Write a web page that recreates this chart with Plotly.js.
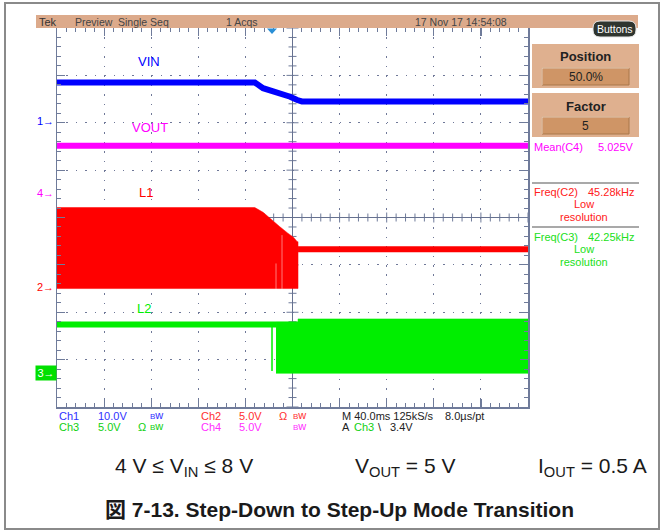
<!DOCTYPE html>
<html><head><meta charset="utf-8">
<script src="https://cdn.plot.ly/plotly-3.0.1.min.js"></script>
<style>html,body{margin:0;padding:0;background:#fff;}#chart{width:661px;height:532px;}</style>
</head><body><div id="chart"></div>
<script>
// ---- channel settings (V/div) and ground-marker positions (divisions from centre)
const chScale  = {ch1: 10, ch2: 5, ch3: 5, ch4: 5};
const chOffset = {ch1: 2.04, ch2: -1.47, ch3: -3.28, ch4: 0.52};

// ---- time in ms (40 ms/div, 0 = trigger), values in volts
// VIN (Ch1)
const vinT = [-200, -32, -25, -11, -2, 4, 8, 200];
const vinV = [8.1, 8.1, 6.9, 5.9, 5.1, 4.4, 4.1, 4.1];
// VOUT (Ch4)
const voutT = [-200, 200];
const voutV = [4.96, 4.96];
// L1 (Ch2) switching envelope before transition
const l1UpperT = [-200, -32, -25, -18, -11, -4, 1, 4, 4.7];
const l1UpperV = [8.4, 8.4, 7.9, 7.1, 6.4, 5.7, 5.25, 4.8, 4.8];
const l1LowerT = [-200, -14.4, -14.4, -13.6, -13.6, -9.3, -9.3, -8.5, -8.5, 4.7];
const l1LowerV = [-0.15, -0.15, 2.5, 2.5, -0.15, -0.15, 5.5, 5.5, -0.15, -0.15];
// L1 after transition (step-up, tracks VIN)
const l1AfterT = [4.7, 200];
const l1AfterV = [4.0, 4.0];
// L2 (Ch3) before transition
const l2BeforeT = [-200, -14];
const l2BeforeV = [5.1, 5.1];
const l2SpikeT = [-17.4, -17.4];
const l2SpikeV = [5.1, 0.2];
// L2 switching envelope after transition
const l2UpperT = [-14, 4.7, 4.7, 200];
const l2UpperV = [5.4, 5.4, 5.7, 5.7];
const l2LowerT = [-14, 200];
const l2LowerV = [-0.05, -0.05];

// ---- text
const traceLabels = ['VIN', 'VOUT', 'L1', 'L2'];
const headerTexts = ['Tek', 'Preview', 'Single Seq', '1 Acqs', '17 Nov 17 14:54:08'];

// ---- helpers
const toDiv = (arr, ch) => arr.map(v => v / chScale[ch] + chOffset[ch]);
const L = 57, R = 528, T = 28, B = 407;
const X = v => (v - L) / (R - L);
const Y = v => (B - v) / (B - T);

const BLUE = '#0000ff', MAG = '#ff00ff', RED = '#ff0000', GRN = '#00ee00';

function band(upT, upV, loT, loV, ch, color) {
  const x = upT.concat(loT.slice().reverse());
  const y = toDiv(upV, ch).concat(toDiv(loV.slice().reverse(), ch));
  return {x, y, type: 'scatter', mode: 'lines', fill: 'toself', fillcolor: color,
    line: {color: color, width: 0.5}, hoverinfo: 'skip', showlegend: false};
}
function line(t, v, ch, color, w) {
  return {x: t, y: toDiv(v, ch), type: 'scatter', mode: 'lines',
    line: {color: color, width: w}, hoverinfo: 'skip', showlegend: false};
}

const traces = [
  band(l1UpperT, l1UpperV, l1LowerT, l1LowerV, 'ch2', RED),
  line(l1AfterT, l1AfterV, 'ch2', RED, 6),
  band(l2UpperT, l2UpperV, l2LowerT, l2LowerV, 'ch3', GRN),
  line(l2BeforeT, l2BeforeV, 'ch3', GRN, 6),
  line(l2SpikeT, l2SpikeV, 'ch3', GRN, 1.5),
  line(voutT, voutV, 'ch4', MAG, 6),
  line(vinT, vinV, 'ch1', BLUE, 6)
];

// ---- shapes
const AX = '#6f7b9a';
const shapes = [];
// centre-line ticks
for (let k = -25; k <= 25; k++) {
  const h = (k % 5 === 0) ? 5 : 4;
  shapes.push({type: 'line', xref: 'x', yref: 'y', ysizemode: 'pixel', yanchor: 0,
    x0: k * 8, x1: k * 8, y0: -h, y1: h, line: {color: AX, width: 1}, layer: 'below'});
}
for (let k = -20; k <= 20; k++) {
  const h = (k % 5 === 0) ? 6 : 4;
  shapes.push({type: 'line', xref: 'x', yref: 'y', xsizemode: 'pixel', xanchor: 0,
    y0: k * 0.2, y1: k * 0.2, x0: -h, x1: h, line: {color: AX, width: 1}, layer: 'below'});
}
function rect(x0, y0, x1, y1, fill, lc, lw) {
  shapes.push({type: 'rect', xref: 'paper', yref: 'paper', x0: X(x0), x1: X(x1), y0: Y(y0), y1: Y(y1),
    fillcolor: fill, line: {color: lc || 'rgba(0,0,0,0)', width: lw || 0}, layer: 'above'});
}
function seg(x0, y0, x1, y1, c, w) {
  shapes.push({type: 'line', xref: 'paper', yref: 'paper', x0: X(x0), x1: X(x1), y0: Y(y0), y1: Y(y1),
    line: {color: c, width: w}, layer: 'above'});
}
function rr(x0, y0, x1, y1, r) {
  return `M${X(x0 + r)},${Y(y0)} L${X(x1 - r)},${Y(y0)} Q${X(x1)},${Y(y0)} ${X(x1)},${Y(y0 + r)} ` +
    `L${X(x1)},${Y(y1 - r)} Q${X(x1)},${Y(y1)} ${X(x1 - r)},${Y(y1)} L${X(x0 + r)},${Y(y1)} ` +
    `Q${X(x0)},${Y(y1)} ${X(x0)},${Y(y1 - r)} L${X(x0)},${Y(y0 + r)} Q${X(x0)},${Y(y0)} ${X(x0 + r)},${Y(y0)} Z`;
}
// outer frame
rect(5, 3, 659, 529, 'rgba(0,0,0,0)', '#8a8a8a', 2);
// header bar
rect(36, 15, 638, 28, '#dcaa8b');
// right panel boxes
rect(532, 44, 639, 88, '#dfb08f');
rect(542, 68, 629, 85, '#cf9566', '#a9764a', 1);
seg(542, 68, 629, 68, '#f2d6bf', 1); seg(542, 68, 542, 85, '#f2d6bf', 1);
rect(532, 93, 639, 137, '#dfb08f');
rect(542, 117, 629, 134, '#cf9566', '#a9764a', 1);
seg(542, 117, 629, 117, '#f2d6bf', 1); seg(542, 117, 542, 134, '#f2d6bf', 1);
seg(532, 183, 639, 183, '#8c8c8c', 1.5);
seg(532, 227, 639, 227, '#8c8c8c', 1.5);
// Buttons pill
shapes.push({type: 'path', xref: 'paper', yref: 'paper', path: rr(593, 21, 636, 37, 7),
  fillcolor: '#2f352f', line: {color: '#e8e8e8', width: 1}, layer: 'above'});
// trigger marker
shapes.push({type: 'path', xref: 'paper', yref: 'paper',
  path: `M${X(267)},${Y(28.5)} L${X(277)},${Y(28.5)} L${X(272)},${Y(34)} Z`,
  fillcolor: '#2a8fd6', line: {width: 0}, layer: 'above'});

// ---- annotations
const ann = [];
const SCR = 'Liberation Sans, Arial, sans-serif';
function txt(x, y, text, color, size, xa, extra) {
  ann.push(Object.assign({xref: 'paper', yref: 'paper', x: X(x), y: Y(y), text: text, showarrow: false,
    xanchor: xa || 'left', yanchor: 'middle',
    font: {family: SCR, size: size, color: color}}, extra || {}));
}
// header
txt(37, 21.5, headerTexts[0], '#333', 11);
txt(73, 21.5, headerTexts[1], '#444', 10.5);
txt(116, 21.5, headerTexts[2], '#444', 10.5);
txt(224, 21.5, headerTexts[3], '#444', 10.5);
txt(413, 21.5, headerTexts[4], '#444', 10.5);
txt(614.5, 29, 'Buttons', '#ffffff', 10.5, 'center');
// panel
txt(585.5, 57, '<b>Position</b>', '#222', 13, 'center');
txt(585.5, 77, '50.0%', '#222', 12, 'center');
txt(585.5, 106, '<b>Factor</b>', '#222', 13, 'center');
txt(585.5, 126, '5', '#222', 12, 'center');
txt(532, 147, 'Mean(C4)', MAG, 11);
txt(636, 147, '5.025V', MAG, 11, 'right');
txt(532, 192, 'Freq(C2)', '#ff2020', 11);
txt(636, 192, '45.28kHz', '#ff2020', 11, 'right');
txt(584, 203.5, 'Low', '#ff2020', 11, 'center');
txt(584, 217, 'resolution', '#ff2020', 11, 'center');
txt(532, 237, 'Freq(C3)', '#20e020', 11);
txt(636, 237, '42.25kHz', '#20e020', 11, 'right');
txt(584, 249, 'Low', '#20e020', 11, 'center');
txt(584, 262, 'resolution', '#20e020', 11, 'center');
// trace labels
txt(149, 61, traceLabels[0], BLUE, 13, 'center');
txt(150, 127, traceLabels[1], MAG, 13, 'center');
txt(146, 192, traceLabels[2], RED, 13, 'center');
txt(144, 308, traceLabels[3], GRN, 13, 'center');
// channel markers
txt(56, 121, '1→', BLUE, 11, 'right');
txt(56, 193, '4→', MAG, 11, 'right');
txt(56, 287, '2→', RED, 11, 'right');
ann.push({xref: 'paper', yref: 'paper', x: X(57), y: Y(372.5), text: '3→', showarrow: false,
  xanchor: 'right', yanchor: 'middle', bgcolor: '#00e000', width: 18, height: 12, borderpad: 1,
  font: {family: SCR, size: 11, color: '#ffffff'}});
// bottom status
const C1 = '#3030ff', C2 = '#ff3030', C3 = '#10d010', C4 = '#ff30ff';
const BW = '<span style="font-size:8px">B</span>w';
txt(57, 415.5, 'Ch1', C1, 11); txt(96, 415.5, '10.0V', C1, 11); txt(148, 414.5, BW, C1, 11);
txt(199, 415.5, 'Ch2', C2, 11); txt(237, 415.5, '5.0V', C2, 11); txt(277, 415.5, 'Ω', C2, 11); txt(291, 414.5, BW, C2, 11);
txt(57, 427, 'Ch3', C3, 11); txt(96, 427, '5.0V', C3, 11); txt(136, 427, 'Ω', C3, 11); txt(148, 426, BW, C3, 11);
txt(199, 427, 'Ch4', C4, 11); txt(237, 427, '5.0V', C4, 11); txt(291, 426, BW, C4, 11);
txt(340, 415.5, 'M 40.0ms 125kS/s', '#222', 11); txt(443, 415.5, '8.0µs/pt', '#222', 11);
txt(340, 427, 'A', '#222', 11); txt(352, 427, 'Ch3', C3, 11); txt(376, 427, '\\', '#222', 11); txt(388, 427, '3.4V', '#222', 11);
// caption
const capFont = {family: 'Liberation Sans, Arial, Noto Sans CJK JP, sans-serif', size: 21, color: '#1a1a1a'};
ann.push({xref: 'paper', yref: 'paper', x: X(184), y: Y(467), text: '4 V ≤ V<sub>IN</sub> ≤ 8 V', showarrow: false, xanchor: 'center', yanchor: 'middle', font: capFont});
ann.push({xref: 'paper', yref: 'paper', x: X(405), y: Y(467), text: 'V<sub>OUT</sub> = 5 V', showarrow: false, xanchor: 'center', yanchor: 'middle', font: capFont});
ann.push({xref: 'paper', yref: 'paper', x: X(592), y: Y(467), text: 'I<sub>OUT</sub> = 0.5 A', showarrow: false, xanchor: 'center', yanchor: 'middle', font: capFont});
ann.push({xref: 'paper', yref: 'paper', x: X(339), y: Y(509), text: '<b>図 7-13. Step-Down to Step-Up Mode Transition</b>', showarrow: false,
  xanchor: 'center', yanchor: 'middle', font: {family: 'Liberation Sans, Arial, Noto Sans CJK JP, sans-serif', size: 21, color: '#1a1a1a'}});

const axCommon = {
  showgrid: true, gridcolor: '#6f7898', gridwidth: 1,
  zeroline: true, zerolinecolor: '#66718f', zerolinewidth: 1.5,
  showline: true, linecolor: AX, linewidth: 1.5, mirror: 'ticks',
  ticks: 'inside', ticklen: 8, tickwidth: 1.2, tickcolor: AX, showticklabels: false, fixedrange: true
};
const layout = {
  width: 661, height: 532,
  margin: {l: L, r: 661 - R, t: T, b: 532 - B, pad: 0},
  paper_bgcolor: '#ffffff', plot_bgcolor: '#ffffff',
  showlegend: false, hovermode: false,
  xaxis: Object.assign({}, axCommon, {range: [-200, 200], tick0: 0, dtick: 40, griddash: '1.5px,7.98px',
    minor: {tick0: 0, dtick: 8, ticks: 'inside', ticklen: 4, tickwidth: 1, tickcolor: AX, showgrid: false}}),
  yaxis: Object.assign({}, axCommon, {range: [-4, 4], tick0: 0, dtick: 1, griddash: '1.5px,7.92px',
    minor: {tick0: 0, dtick: 0.2, ticks: 'inside', ticklen: 4, tickwidth: 1, tickcolor: AX, showgrid: false}}),
  shapes: shapes,
  annotations: ann
};
Plotly.newPlot('chart', traces, layout, {staticPlot: true, displayModeBar: false});
</script></body></html>
